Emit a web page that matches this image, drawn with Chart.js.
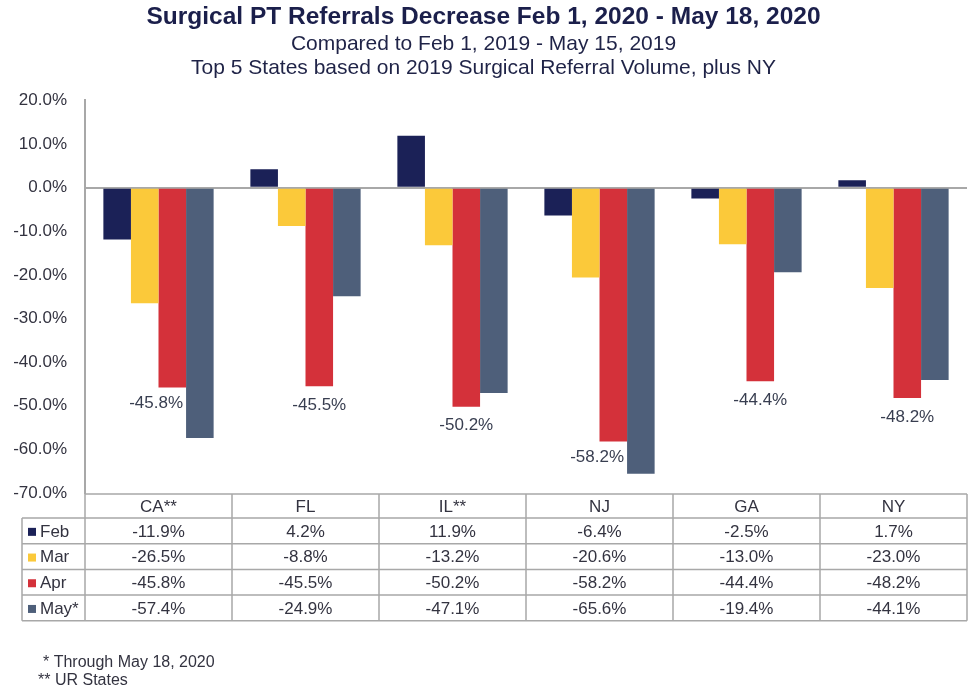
<!DOCTYPE html>
<html>
<head>
<meta charset="utf-8">
<script src="https://cdn.jsdelivr.net/npm/chart.js@4.4.1/dist/chart.umd.min.js"></script>
<style>
  html, body { margin: 0; padding: 0; background: #ffffff; }
  #wrap { width: 975px; height: 699px; }
</style>
</head>
<body>
<div id="wrap"><canvas id="c" width="975" height="699"></canvas></div>
<script>
const categories = ['CA**', 'FL', 'IL**', 'NJ', 'GA', 'NY'];
const seriesNames = ['Feb', 'Mar', 'Apr', 'May*'];
const febValues = [-11.9, 4.2, 11.9, -6.4, -2.5, 1.7];
const marValues = [-26.5, -8.8, -13.2, -20.6, -13.0, -23.0];
const aprValues = [-45.8, -45.5, -50.2, -58.2, -44.4, -48.2];
const mayValues = [-57.4, -24.9, -47.1, -65.6, -19.4, -44.1];
const yTickValues = [20, 10, 0, -10, -20, -30, -40, -50, -60, -70];
const titleText = 'Surgical PT Referrals Decrease Feb 1, 2020 - May 18, 2020';
const subtitleLines = ['Compared to Feb 1, 2019 - May 15, 2019', 'Top 5 States based on 2019 Surgical Referral Volume, plus NY'];
const footnotes = ['* Through May 18, 2020', '** UR States'];

const seriesValues = [febValues, marValues, aprValues, mayValues];
const seriesColors = ['#1b2157', '#fbc93a', '#d4313a', '#4e5f7a'];
const FONT = "'Liberation Sans', Arial, sans-serif";
const TEXT = '#333340';
const LINE = '#a8a8a8';
const fmt = v => v.toFixed(1) + '%';

const tablePlugin = {
  id: 'tablePlugin',
  afterDraw(chart) {
    const ctx = chart.ctx;
    const area = chart.chartArea;
    const xs = chart.scales.x;
    const colW = (area.right - area.left) / categories.length;

    // Apr data labels
    const aprMeta = chart.getDatasetMeta(2);
    ctx.save();
    ctx.font = '17px ' + FONT;
    ctx.fillStyle = '#383e50';
    ctx.textBaseline = 'middle';
    aprMeta.data.forEach((bar, i) => {
      const longerNext = mayValues[i] < aprValues[i];
      if (longerNext) {
        ctx.textAlign = 'right';
        ctx.fillText(fmt(aprValues[i]), bar.x + bar.width / 2 - 3, bar.y + 16);
      } else {
        ctx.textAlign = 'center';
        ctx.fillText(fmt(aprValues[i]), bar.x, bar.y + 19);
      }
    });
    ctx.restore();

    // table
    const top = area.bottom + 1;
    const headH = 24;
    const rowH = 25.7;
    const labelLeft = 22;
    const left = area.left;
    const right = area.right;
    const bottom = top + headH + rowH * seriesNames.length;

    ctx.save();
    ctx.strokeStyle = LINE;
    ctx.lineWidth = 1.5;
    ctx.beginPath();
    ctx.moveTo(left, top); ctx.lineTo(right, top);
    for (let r = 0; r <= seriesNames.length; r++) {
      const y = top + headH + rowH * r;
      ctx.moveTo(labelLeft, y); ctx.lineTo(right, y);
    }
    ctx.moveTo(labelLeft, top + headH); ctx.lineTo(labelLeft, bottom);
    ctx.moveTo(left, top); ctx.lineTo(left, bottom);
    for (let i = 0; i < categories.length; i++) {
      const xr = xs.getPixelForValue(i) + colW / 2;
      ctx.moveTo(xr, top); ctx.lineTo(xr, bottom);
    }
    ctx.stroke();

    ctx.fillStyle = TEXT;
    ctx.font = '17px ' + FONT;
    ctx.textBaseline = 'middle';
    ctx.textAlign = 'center';
    categories.forEach((c, i) => {
      ctx.fillText(c, xs.getPixelForValue(i), top + headH / 2 + 1);
    });
    seriesNames.forEach((s, r) => {
      const yc = top + headH + rowH * r + rowH / 2 + 1;
      ctx.fillStyle = seriesColors[r];
      ctx.fillRect(labelLeft + 6, yc - 4, 8, 8);
      ctx.fillStyle = TEXT;
      ctx.textAlign = 'left';
      ctx.fillText(s, labelLeft + 18, yc);
      ctx.textAlign = 'center';
      seriesValues[r].forEach((v, i) => {
        ctx.fillText(fmt(v), xs.getPixelForValue(i), yc);
      });
    });

    // footnotes
    ctx.font = '16px ' + FONT;
    ctx.textAlign = 'left';
    ctx.fillText(footnotes[0], 43, 663);
    ctx.fillText(footnotes[1], 38, 681);
    ctx.restore();
  }
};

new Chart(document.getElementById('c'), {
  type: 'bar',
  data: {
    labels: categories,
    datasets: seriesNames.map((n, k) => ({
      label: n,
      data: seriesValues[k],
      backgroundColor: seriesColors[k],
      borderWidth: 0,
      categoryPercentage: 0.75,
      barPercentage: 1.0
    }))
  },
  options: {
    responsive: false,
    animation: false,
    devicePixelRatio: 1,
    layout: { padding: { left: 0, right: 8, top: 0, bottom: 206 } },
    plugins: {
      legend: { display: false },
      tooltip: { enabled: false },
      title: {
        display: true,
        text: titleText,
        color: '#1b1f4b',
        font: { family: FONT, size: 24.5, weight: 'bold', lineHeight: 1.2 },
        padding: { top: 3, bottom: 0.5 }
      },
      subtitle: {
        display: true,
        text: subtitleLines,
        color: '#1f2347',
        font: { family: FONT, size: 21, lineHeight: 23.5 / 21 },
        padding: { top: 0, bottom: 20.5 }
      }
    },
    scales: {
      x: {
        display: false,
        grid: { display: false }
      },
      y: {
        min: -70,
        max: 20,
        afterBuildTicks(scale) {
          scale.ticks = yTickValues.map(v => ({ value: v }));
        },
        afterFit(scale) { scale.width = 85; },
        ticks: {
          color: TEXT,
          font: { family: FONT, size: 17 },
          padding: 18,
          callback: v => fmt(v)
        },
        grid: {
          drawTicks: false,
          color: c => (c.tick && c.tick.value === 0) ? LINE : 'rgba(0,0,0,0)',
          lineWidth: 2
        },
        border: { display: true, color: LINE, width: 2 }
      }
    }
  },
  plugins: [tablePlugin]
});
</script>
</body>
</html>
